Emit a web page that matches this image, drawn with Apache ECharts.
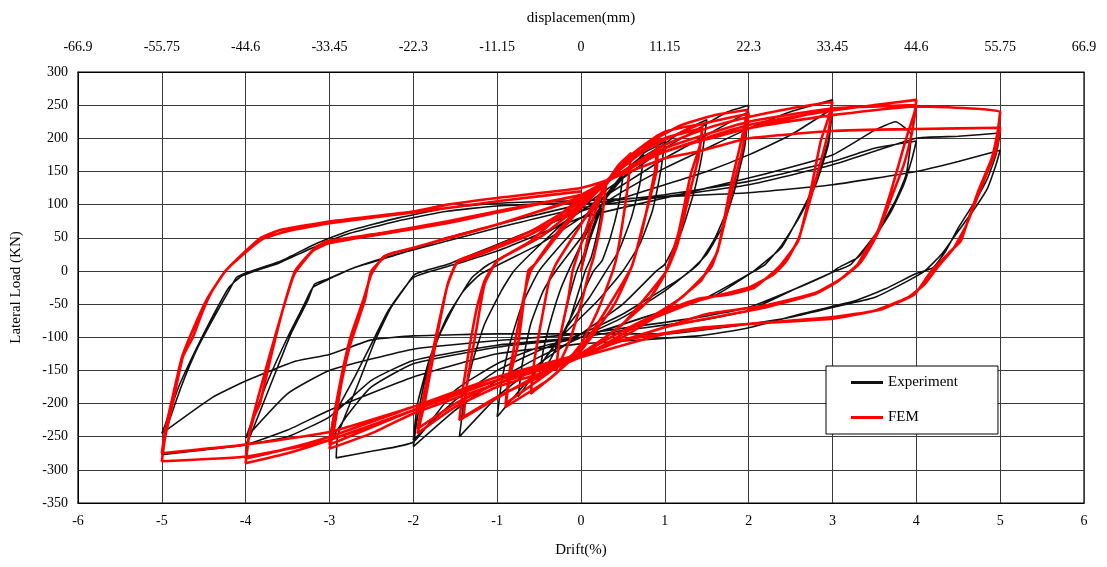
<!DOCTYPE html>
<html><head><meta charset="utf-8">
<script src="https://cdn.jsdelivr.net/npm/echarts@6/dist/echarts.min.js"></script>
<style>html,body{margin:0;padding:0;background:#fff}#c{width:1107px;height:567px}</style>
</head><body><div id="c"></div>
<script>
const topLabels = ['-66.9','-55.75','-44.6','-33.45','-22.3','-11.15','0','11.15','22.3','33.45','44.6','55.75','66.9'];
const seriesNames = ['Experiment','FEM'];

// Experiment cycles [drift %, load kN]
const exp025 = [[0,0],[0.1,45],[0.2,80],[0.25,95],[0.2,60],[0.12,20],[0.05,0],[-0.05,-40],[-0.15,-80],[-0.25,-105],[-0.2,-70],[-0.12,-30],[-0.05,0],[0.05,30],[0.15,70],[0.25,100]];
const exp05 = [[0.35,120],[0.45,135],[0.5,142],[0.45,100],[0.35,50],[0.25,15],[0.15,0],[0,-40],[-0.2,-90],[-0.35,-130],[-0.5,-160],[-0.45,-120],[-0.35,-70],[-0.25,-30],[-0.15,0],[0,40],[0.2,90],[0.4,130],[0.5,145]];
const exp075 = [[0.6,160],[0.75,175],[0.7,130],[0.6,80],[0.45,30],[0.3,0],[0.1,-40],[-0.2,-90],[-0.5,-145],[-0.75,-190],[-0.7,-140],[-0.6,-80],[-0.45,-30],[-0.3,0],[0,50],[0.3,110],[0.6,155],[0.75,178]];
const exp10 = [[0.9,188],[1.0,195],[0.95,150],[0.85,90],[0.7,40],[0.5,0],[0.2,-45],[-0.2,-95],[-0.6,-160],[-1,-220],[-0.95,-170],[-0.85,-110],[-0.7,-50],[-0.5,0],[-0.2,45],[0.2,100],[0.6,160],[1.0,192]];
const exp15 = [[1.2,210],[1.5,228],[1.45,180],[1.35,120],[1.2,60],[1.0,10],[0.9,0],[0.5,-50],[0,-95],[-0.5,-140],[-1,-190],[-1.45,-250],[-1.4,-200],[-1.3,-140],[-1.15,-80],[-0.95,-30],[-0.8,0],[-0.4,50],[0,95],[0.5,140],[1.0,185],[1.5,222]];
const exp20a = [[1.75,240],[2,250],[1.95,190],[1.85,130],[1.7,70],[1.5,25],[1.3,0],[1.0,-30],[0.5,-70],[0,-100],[-0.5,-130],[-1,-165],[-1.5,-210],[-2,-265],[-1.95,-220],[-1.85,-160],[-1.7,-100],[-1.5,-50],[-1.3,-10],[-1.1,10],[-0.5,50],[0,90],[0.5,130],[1,170],[1.5,205],[2,240]];
const exp20b = [[1.95,185],[1.8,110],[1.6,50],[1.4,10],[1.2,-10],[0.5,-65],[0,-95],[-0.5,-120],[-1,-150],[-1.5,-195],[-2,-255],[-1.95,-200],[-1.8,-130],[-1.6,-70],[-1.4,-30],[-1.2,-5],[-0.5,40],[0,80],[0.5,120],[1,155],[1.5,185],[2,215],[2.5,240],[3,258]];
const exp30a = [[2.95,196],[2.79,131],[2.59,80],[2.39,35],[2.11,5],[2.03,-3],[1.63,-35],[1.4,-45],[1,-60],[0.5,-80],[0,-100],[-0.5,-115],[-1,-140],[-1.5,-180],[-2,-258],[-2.5,-272],[-2.92,-282],[-2.9,-247],[-2.66,-171],[-2.46,-106],[-2.27,-56],[-2.1,-25],[-1.98,-5],[-1.59,10],[-1,40],[-0.5,65],[0,90],[0.5,110],[1,130],[1.5,150],[2,175],[2.5,205],[3,245]];
const exp30b = [[2.95,190],[2.8,130],[2.6,80],[2.4,40],[2.2,10],[2,-5],[1.5,-40],[1,-60],[0,-100],[-1,-115],[-2,-140],[-2.5,-175],[-2.8,-220],[-3,-258],[-2.95,-220],[-2.7,-160],[-2.5,-110],[-2.3,-60],[-2,-10],[-1.5,10],[-1,30],[0,80],[1,110],[2,140],[3,175],[3.5,212],[3.75,225],[3.94,205]];
const exp40a = [[3.88,146],[3.75,106],[3.54,60],[3.22,10],[2.98,-3],[2.59,-25],[1.99,-60],[1.4,-75],[0.5,-90],[0,-100],[-1,-112],[-2,-135],[-2.5,-165],[-3,-220],[-3.5,-250],[-4,-262],[-3.94,-247],[-3.7,-171],[-3.46,-95],[-3.26,-45],[-3.18,-20],[-3.02,-12],[-2.7,5],[-2.18,25],[-1.59,50],[-1,70],[0,100],[1,115],[2,135],[3,165],[3.5,185],[4,196]];
const exp40b = [[3.95,170],[3.85,130],[3.7,90],[3.5,50],[3.3,20],[3.07,5],[2.98,-3],[2.5,-30],[2,-55],[1.4,-70],[0,-95],[-1,-105],[-2,-118],[-3,-150],[-3.5,-185],[-4,-252],[-3.95,-235],[-3.75,-170],[-3.5,-100],[-3.3,-50],[-3.2,-25],[-3,-12],[-2.7,5],[-2.2,25],[-1.6,45],[-1,65],[0,95],[1,112],[2,130],[3,160],[4,200],[4.5,203],[5,208]];
const exp50a = [[4.95,175],[4.85,140],[4.7,105],[4.5,65],[4.35,30],[4.2,5],[3.98,-5],[3.63,-27],[3.27,-45],[2.62,-65],[1.99,-86],[1.4,-98],[0,-110],[-1,-125],[-2,-160],[-3,-210],[-3.5,-240],[-4,-262],[-4.5,-270],[-5,-277],[-4.96,-245],[-4.77,-175],[-4.57,-115],[-4.37,-68],[-4.2,-30],[-4.11,-10],[-4,-3],[-3.58,15],[-3.18,40],[-2.78,60],[-2.18,80],[-1.59,95],[-1,102],[0,106],[1,112],[2,118],[3,130],[4,150],[4.5,165],[5,182]];
const exp50b = [[4.95,160],[4.85,125],[4.7,95],[4.5,60],[4.3,25],[4.1,0],[3.9,-15],[3.5,-40],[3,-55],[2.5,-70],[2,-80],[1,-95],[0,-95],[-1,-95],[-2,-98],[-2.5,-104],[-3,-126],[-3.4,-136],[-4,-166],[-4.4,-191],[-5,-245],[-4.96,-232],[-4.8,-175],[-4.6,-120],[-4.4,-70],[-4.2,-25],[-4.05,-8],[-3.6,12],[-3.2,35],[-2.8,55],[-2.2,75],[-1.6,90],[-1,98],[0,103]];

// FEM cycles
const fem03 = [[0,0],[0.1,60],[0.2,100],[0.3,130],[0.25,80],[0.15,20],[0.1,0],[0,-50],[-0.15,-110],[-0.3,-150],[-0.25,-100],[-0.15,-40],[-0.1,0],[0,40],[0.15,95],[0.3,132]];
const fem06 = [[0.45,160],[0.6,178],[0.55,120],[0.44,30],[0.38,0],[0.2,-60],[0,-110],[-0.3,-155],[-0.6,-185],[-0.55,-130],[-0.45,-60],[-0.38,-15],[-0.3,10],[0,70],[0.3,130],[0.6,175]];
const fem09a = [[0.75,190],[0.92,205],[0.88,150],[0.72,56],[0.6,5],[0.4,-50],[0,-120],[-0.4,-165],[-0.9,-205],[-0.85,-160],[-0.75,-110],[-0.63,0],[-0.55,10],[-0.3,50],[0,95],[0.32,135],[0.6,170],[0.92,200]];
const fem09b = [[0.9,150],[0.72,60],[0.6,5],[0,-115],[-0.9,-200],[-0.85,-150],[-0.7,-50],[-0.6,0],[-0.3,55],[0,100],[0.32,135],[0.7,185],[1.0,210],[1.45,222]];
const fem15a = [[1.42,190],[1.31,146],[1.16,56],[1.0,-5],[0.8,-45],[0.4,-90],[0,-125],[-0.5,-160],[-1,-190],[-1.4,-220],[-1.35,-161],[-1.25,-90],[-1.15,-20],[-1.0,15],[-0.6,45],[-0.2,90],[0.1,120],[0.32,138],[0.6,170],[1.0,200],[1.45,215]];
const fem15b = [[1.4,170],[1.3,120],[1.15,40],[1.02,0],[0.5,-80],[0,-125],[-0.7,-170],[-1.45,-225],[-1.4,-170],[-1.25,-60],[-1.15,-15],[-1.0,15],[-0.5,50],[0,100],[0.32,138],[0.7,185],[1.2,220],[1.6,235],[1.99,243]];
const fem20a = [[1.9,190],[1.79,131],[1.63,30],[1.5,0],[1.43,-15],[1,-60],[0.5,-100],[0,-130],[-0.5,-155],[-1,-175],[-1.5,-205],[-1.95,-245],[-1.86,-196],[-1.72,-100],[-1.59,-20],[-1.47,15],[-1.15,30],[-0.6,60],[0,105],[0.32,138],[0.8,185],[1.4,220],[2,237]];
const fem20b = [[1.92,180],[1.8,120],[1.65,40],[1.55,5],[1.2,-40],[0.5,-95],[0,-130],[-1,-170],[-1.5,-200],[-1.95,-238],[-1.88,-190],[-1.75,-110],[-1.6,-25],[-1.48,12],[-1.2,25],[-0.6,55],[0,100],[0.32,135],[1,190],[1.5,215],[2,232],[2.5,245],[3,255]];
const fem30a = [[2.95,230],[2.86,196],[2.74,121],[2.59,45],[2.39,10],[2.31,0],[2.07,-25],[1.79,-35],[1.4,-42],[1,-60],[0.5,-90],[0,-125],[-0.5,-150],[-1,-170],[-2,-215],[-2.5,-245],[-3,-268],[-2.94,-235],[-2.86,-171],[-2.75,-110],[-2.58,-45],[-2.5,0],[-2.3,25],[-1.98,35],[-1.59,50],[-1,70],[-0.5,90],[0,110],[0.32,135],[0.8,170],[1.5,200],[2,215],[2.5,230],[3,245]];
const fem30b = [[2.95,210],[2.85,160],[2.74,110],[2.6,50],[2.45,15],[2.3,-5],[2,-25],[1.4,-45],[0.5,-90],[0,-125],[-1,-165],[-2,-210],[-3,-262],[-2.95,-220],[-2.86,-160],[-2.75,-100],[-2.6,-45],[-2.5,-5],[-2.35,22],[-2,35],[-1.5,52],[-1,70],[0,112],[0.32,137],[1,180],[2,220],[3,242],[3.5,250],[4,258]];
const fem40a = [[3.98,240],[3.87,196],[3.7,121],[3.54,60],[3.39,30],[3.3,10],[3.07,-15],[2.79,-35],[2.2,-55],[1.79,-65],[1,-85],[0,-125],[-1,-165],[-2,-210],[-3,-255],[-3.5,-275],[-4,-290],[-3.96,-250],[-3.9,-220],[-3.83,-200],[-3.7,-130],[-3.56,-60],[-3.41,0],[-3.17,35],[-3.02,45],[-2.38,57],[-1.59,75],[-1,90],[0,115],[0.32,137],[1,185],[2,225],[3,245],[4,250]];
const fem40b = [[3.95,210],[3.85,160],[3.7,110],[3.55,60],[3.4,25],[3.3,8],[3.1,-12],[2.8,-33],[2.2,-52],[1.5,-65],[1,-85],[0,-125],[-1,-160],[-2,-205],[-3,-250],[-3.5,-268],[-4,-283],[-3.95,-240],[-3.85,-190],[-3.72,-130],[-3.56,-60],[-3.42,-5],[-3.2,30],[-3,42],[-2.4,55],[-1.6,72],[-1,88],[0,115],[0.32,137],[1,180],[2,215],[3,235],[4,248],[5,240]];
const fem50a = [[4.97,210],[4.9,170],[4.74,121],[4.6,70],[4.53,45],[4.41,30],[4.18,0],[3.98,-35],[3.58,-58],[2.98,-70],[2.2,-78],[1.4,-86],[0.5,-105],[0,-128],[-1,-165],[-2,-210],[-3,-255],[-4,-280],[-5,-287],[-4.96,-250],[-4.87,-200],[-4.75,-130],[-4.63,-100],[-4.51,-60],[-4.4,-30],[-4.24,0],[-4.0,30],[-3.82,50],[-3.58,62],[-2.98,75],[-1.98,90],[-1.59,100],[-1,110],[0,125],[0.32,137],[1,170],[1.4,180],[2,200],[3,211],[4,214],[5,216]];
const fem50b = [[4.95,180],[4.85,150],[4.74,115],[4.6,70],[4.45,35],[4.25,5],[4.1,-20],[3.9,-40],[3.5,-60],[3,-72],[2,-80],[1,-95],[0,-130],[-1,-165],[-2,-205],[-3,-243],[-4,-262],[-5,-275],[-4.96,-240],[-4.88,-195],[-4.76,-130],[-4.6,-80],[-4.45,-40],[-4.24,0],[-4.0,28],[-3.8,48],[-3.5,60],[-3,72],[-2,88],[-1,105],[0,120]];

const expData = [].concat(exp025,exp05,exp075,exp10,exp15,exp20a,exp20b,exp30a,exp30b,exp40a,exp40b,exp50a,exp50b);
const femData = [].concat(fem03,fem06,fem09a,fem09b,fem15a,fem15b,fem20a,fem20b,fem30a,fem30b,fem40a,fem40b,fem50a,fem50b);

const font = 'Liberation Serif';
const chart = echarts.init(document.getElementById('c'), null, {renderer:'canvas'});
chart.setOption({
  animation:false,
  backgroundColor:'#fff',
  textStyle:{fontFamily:font},
  grid:{left:78,right:23,top:72,bottom:64,show:true,borderColor:'#000',borderWidth:1.2,backgroundColor:'transparent'},
  legend:{
    orient:'vertical', left:826, top:366, data:seriesNames,
    backgroundColor:'#fff', borderColor:'#000', borderWidth:1,
    padding:[9,40,9,25], itemGap:20, itemWidth:32, itemHeight:3, icon:'rect',
    textStyle:{fontFamily:font,fontSize:15,color:'#000'}
  },
  xAxis:[
    {type:'value',position:'bottom',min:-6,max:6,interval:1,
     name:'Drift(%)',nameLocation:'middle',nameGap:40,
     nameTextStyle:{fontFamily:font,fontSize:15,color:'#000'},
     axisLine:{show:true,onZero:false,lineStyle:{color:'#000'}},axisTick:{show:false},
     axisLabel:{margin:11,fontFamily:font,fontSize:14,color:'#000'},
     splitLine:{show:true,lineStyle:{color:'#3a3a3a',width:1}}},
    {type:'value',position:'top',min:-6,max:6,interval:1,
     name:'displacemen(mm)',nameLocation:'middle',nameGap:46,
     nameTextStyle:{fontFamily:font,fontSize:15,color:'#000'},
     axisLine:{show:true,onZero:false,lineStyle:{color:'#000'}},axisTick:{show:false},
     axisLabel:{margin:18,fontFamily:font,fontSize:14,color:'#000',formatter:function(v){return topLabels[Math.round(v)+6];}},
     splitLine:{show:false}}
  ],
  yAxis:{type:'value',min:-350,max:300,interval:50,
     name:'Lateral Load (KN)',nameLocation:'middle',nameGap:54,
     nameTextStyle:{fontFamily:font,fontSize:15,color:'#000'},
     axisLine:{show:true,onZero:false,lineStyle:{color:'#000'}},axisTick:{show:false},
     axisLabel:{margin:10,fontFamily:font,fontSize:14,color:'#000'},
     splitLine:{show:true,lineStyle:{color:'#3a3a3a',width:1}}},
  series:[
    {name:seriesNames[0],type:'line',xAxisIndex:0,data:expData,showSymbol:false,symbol:'none',smooth:0.15,
     lineStyle:{color:'#111',width:1.6},itemStyle:{color:'#111'},z:2},
    {name:seriesNames[1],type:'line',xAxisIndex:0,data:femData,showSymbol:false,symbol:'none',smooth:0.15,
     lineStyle:{color:'#ff0000',width:2.6},itemStyle:{color:'#ff0000'},z:3}
  ]
});
</script></body></html>
